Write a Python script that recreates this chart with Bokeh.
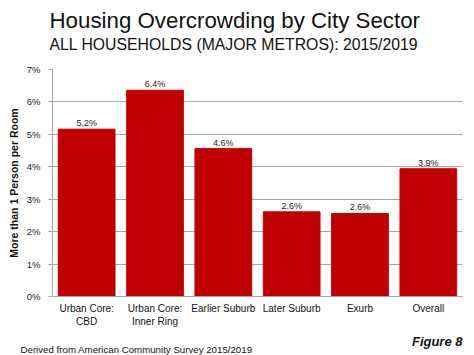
from bokeh.plotting import figure
from bokeh.models import ColumnDataSource, PrintfTickFormatter, FixedTicker, Range1d, Title
from bokeh.core.properties import value
from bokeh.embed import file_html
from bokeh.resources import INLINE

categories = ["Urban Core:\nCBD", "Urban Core:\nInner Ring", "Earlier Suburb", "Later Suburb", "Exurb", "Overall"]
values = [5.16, 6.36, 4.56, 2.61, 2.56, 3.94]
labels = ["5.2%", "6.4%", "4.6%", "2.6%", "2.6%", "3.9%"]
y_ticks = [0, 1, 2, 3, 4, 5, 6, 7]

title_text = "Housing Overcrowding by City Sector"
subtitle_text = "ALL HOUSEHOLDS (MAJOR METROS): 2015/2019"
footer_text = "Derived from American Community Survey 2015/2019"
figure_text = "Figure 8"
y_label = "More than 1 Person per Room"

FONT = "Liberation Sans"
INK = "#111111"
GRID = "#A6A6A6"

src = ColumnDataSource(dict(cat=categories, val=values, lab=labels))

p = figure(x_range=categories, y_range=Range1d(0, 7), width=474, height=355,
           output_backend="svg", toolbar_location=None,
           min_border_left=52, min_border_right=12, min_border_top=69, min_border_bottom=59)
p.outline_line_color = None
p.background_fill_color = "white"

p.vbar(x="cat", top="val", width=0.83, source=src, fill_color="#C00000", line_color="#C00000")
p.text(x="cat", y="val", text="lab", source=src, text_align="center", text_baseline="alphabetic",
       y_offset=-6, text_font=value(FONT), text_font_size="9px", text_color="#222222")

p.yaxis.ticker = FixedTicker(ticks=y_ticks)
p.yaxis.formatter = PrintfTickFormatter(format="%d%%")
p.yaxis.axis_label = y_label
p.yaxis.axis_label_text_font = FONT
p.yaxis.axis_label_text_font_style = "bold"
p.yaxis.axis_label_text_font_size = "10.5px"
p.yaxis.axis_label_text_color = INK
p.yaxis.axis_label_standoff = 4
p.yaxis.major_label_text_font = FONT
p.yaxis.major_label_text_font_size = "9.5px"
p.yaxis.major_label_text_color = "#222222"
p.yaxis.major_label_standoff = 8
p.yaxis.major_tick_in = 0
p.yaxis.major_tick_out = 4
p.yaxis.minor_tick_line_color = None
p.yaxis.axis_line_color = GRID
p.yaxis.major_tick_line_color = GRID

p.xaxis.major_label_text_font = FONT
p.xaxis.major_label_text_font_size = "10px"
p.xaxis.major_label_text_color = INK
p.xaxis.major_tick_in = 0
p.xaxis.major_tick_out = 0
p.xaxis.major_tick_line_color = None
p.xaxis.axis_line_color = GRID
p.xaxis.major_label_standoff = 6

p.xgrid.grid_line_color = None
p.ygrid.grid_line_color = GRID
p.ygrid.ticker = FixedTicker(ticks=y_ticks)

# main title (outermost)
p.title.text = title_text
p.title.text_font = FONT
p.title.text_font_size = "22.3px"
p.title.text_font_style = "normal"
p.title.text_color = INK
p.title.align = "left"
p.title.offset = -3
p.title.vertical_align = "bottom"
p.title.standoff = -22.7

sub = Title(text=subtitle_text, text_font=FONT, text_font_size="15.8px", text_font_style="normal",
            text_color=INK, align="left", offset=-3, vertical_align="top", standoff=29.3)
p.add_layout(sub, "above")

fig8 = Title(text=figure_text, text_font=FONT, text_font_size="13px", text_font_style="bold italic",
             text_color=INK, align="right", offset=0, vertical_align="bottom", standoff=4)
p.add_layout(fig8, "below")

foot = Title(text=footer_text, text_font=FONT, text_font_size="9.7px", text_font_style="normal",
             text_color=INK, align="left", offset=-32, vertical_align="top", standoff=-12.6)
p.add_layout(foot, "below")

open("out.html", "w").write(file_html(p, INLINE))
